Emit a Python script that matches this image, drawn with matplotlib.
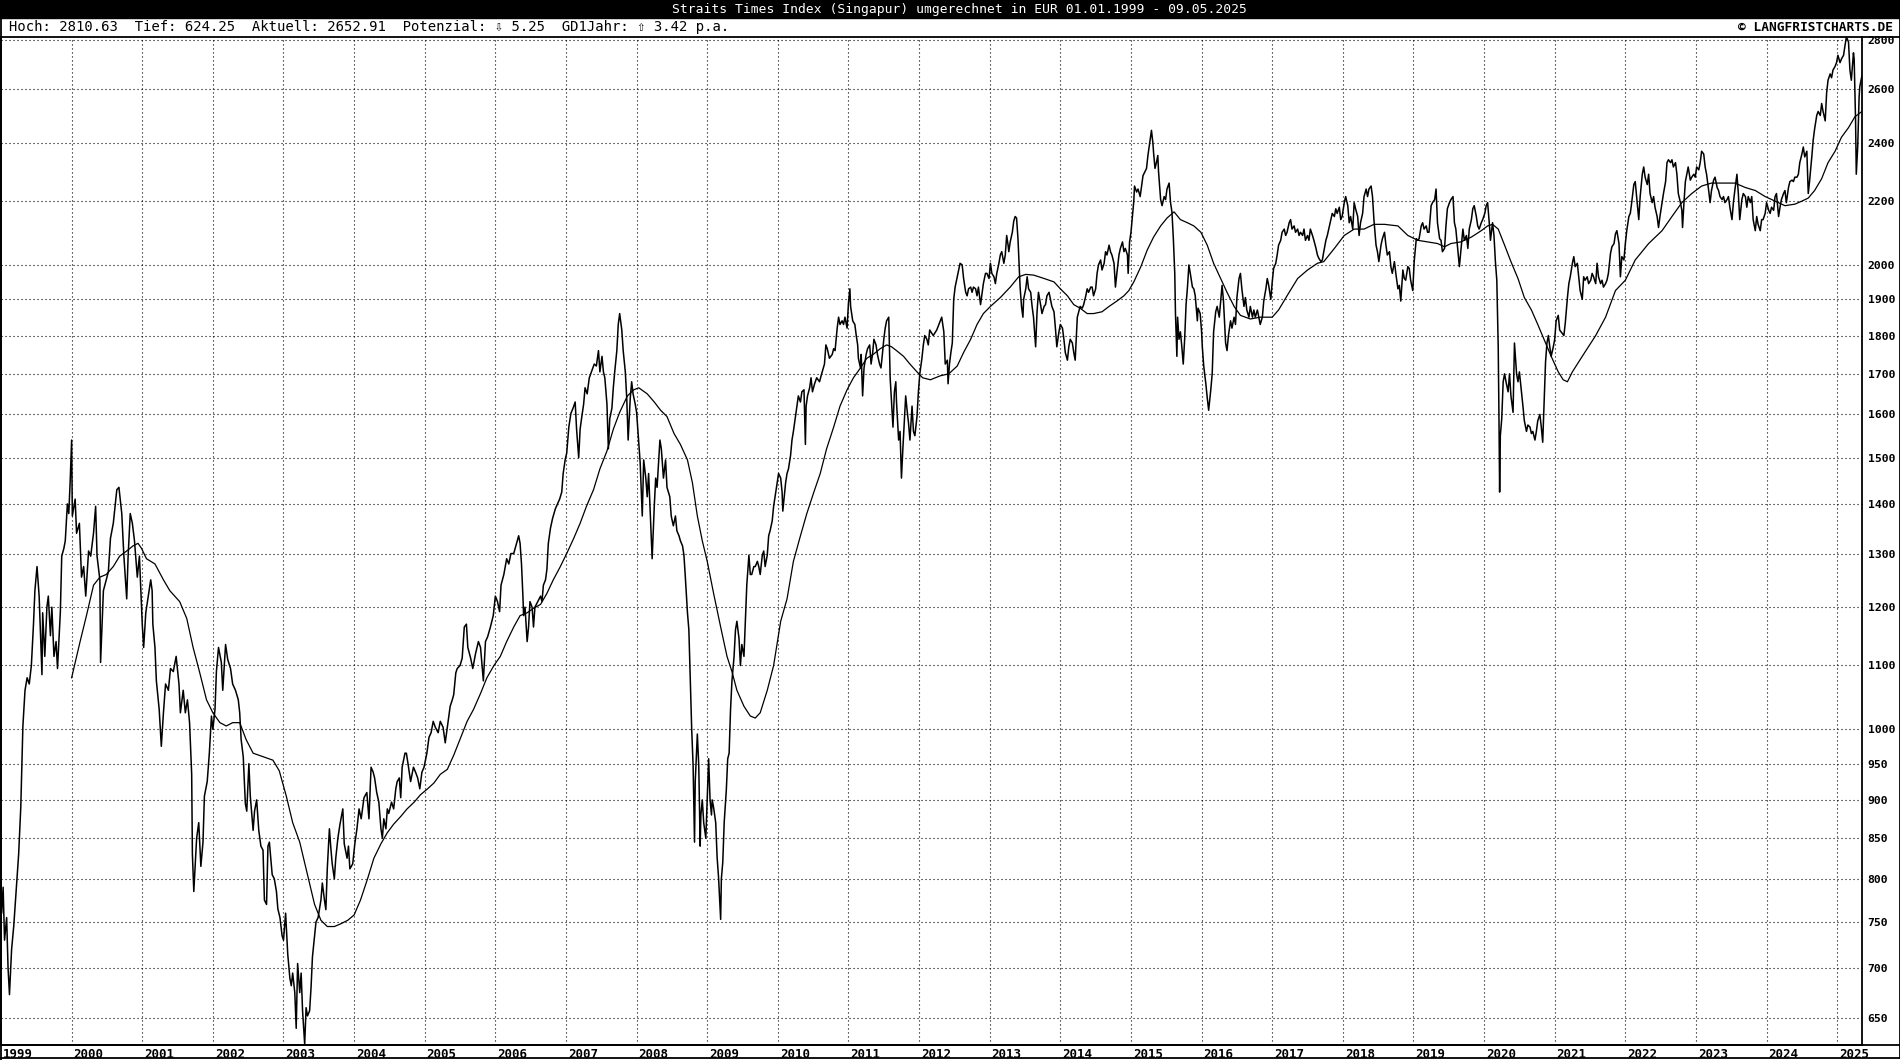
import matplotlib.pyplot as plt
from matplotlib.patches import Rectangle
from matplotlib.lines import Line2D
from matplotlib.ticker import FixedLocator, NullLocator
import matplotlib.transforms as mtransforms

# Straits Times Index in EUR (decimal year, value)
price_year = [
    1999.00, 1999.01, 1999.03, 1999.05, 1999.08, 1999.10, 1999.12, 1999.15, 1999.18, 1999.21,
    1999.25, 1999.28, 1999.31, 1999.34, 1999.37, 1999.40, 1999.43, 1999.46, 1999.48, 1999.51,
    1999.54, 1999.56, 1999.58, 1999.59, 1999.62, 1999.65, 1999.67, 1999.70, 1999.72, 1999.75,
    1999.78, 1999.80, 1999.84, 1999.86, 1999.89, 1999.91, 1999.94, 1999.96, 1999.98, 2000.00,
    2000.01, 2000.05, 2000.07, 2000.11, 2000.14, 2000.17, 2000.20, 2000.24, 2000.27, 2000.31,
    2000.34, 2000.36, 2000.40, 2000.41, 2000.45, 2000.49, 2000.52, 2000.55, 2000.59, 2000.64,
    2000.67, 2000.71, 2000.74, 2000.78, 2000.80, 2000.83, 2000.86, 2000.89, 2000.93, 2000.96,
    2000.98, 2001.00, 2001.02, 2001.05, 2001.08, 2001.12, 2001.14, 2001.15, 2001.18, 2001.20,
    2001.24, 2001.27, 2001.30, 2001.33, 2001.37, 2001.40, 2001.44, 2001.48, 2001.52, 2001.54,
    2001.58, 2001.61, 2001.64, 2001.67, 2001.70, 2001.71, 2001.73, 2001.77, 2001.80, 2001.83,
    2001.86, 2001.88, 2001.92, 2001.95, 2001.98, 2002.00, 2002.03, 2002.05, 2002.08, 2002.12,
    2002.14, 2002.18, 2002.21, 2002.25, 2002.28, 2002.32, 2002.36, 2002.38, 2002.40, 2002.43,
    2002.46, 2002.48, 2002.51, 2002.53, 2002.57, 2002.59, 2002.62, 2002.65, 2002.68, 2002.71,
    2002.73, 2002.76, 2002.78, 2002.80, 2002.84, 2002.87, 2002.90, 2002.92, 2002.95, 2002.98,
    2003.00, 2003.03, 2003.06, 2003.09, 2003.11, 2003.13, 2003.16, 2003.18, 2003.20, 2003.23,
    2003.25, 2003.27, 2003.30, 2003.32, 2003.34, 2003.37, 2003.39, 2003.41, 2003.44, 2003.46,
    2003.49, 2003.53, 2003.55, 2003.58, 2003.60, 2003.62, 2003.65, 2003.67, 2003.69, 2003.72,
    2003.74, 2003.77, 2003.80, 2003.84, 2003.86, 2003.90, 2003.92, 2003.94, 2003.98, 2004.01,
    2004.04, 2004.07, 2004.10, 2004.14, 2004.18, 2004.21, 2004.24, 2004.27, 2004.29, 2004.32,
    2004.35, 2004.38, 2004.40, 2004.42, 2004.45, 2004.47, 2004.49, 2004.53, 2004.56, 2004.59,
    2004.61, 2004.64, 2004.66, 2004.68, 2004.72, 2004.74, 2004.76, 2004.80, 2004.84, 2004.87,
    2004.90, 2004.93, 2004.96, 2004.99, 2005.03, 2005.06, 2005.09, 2005.12, 2005.15, 2005.19,
    2005.22, 2005.26, 2005.29, 2005.32, 2005.36, 2005.39, 2005.41, 2005.44, 2005.46, 2005.50,
    2005.53, 2005.56, 2005.59, 2005.61, 2005.65, 2005.68, 2005.72, 2005.76, 2005.79, 2005.83,
    2005.86, 2005.89, 2005.93, 2005.97, 2006.00, 2006.03, 2006.06, 2006.08, 2006.12, 2006.16,
    2006.19, 2006.22, 2006.26, 2006.30, 2006.33, 2006.35, 2006.37, 2006.39, 2006.40, 2006.42,
    2006.45, 2006.47, 2006.49, 2006.52, 2006.54, 2006.56, 2006.60, 2006.64, 2006.66, 2006.68,
    2006.71, 2006.73, 2006.75, 2006.78, 2006.81, 2006.85, 2006.88, 2006.91, 2006.94, 2006.96,
    2006.99, 2007.01, 2007.04, 2007.07, 2007.10, 2007.13, 2007.15, 2007.18, 2007.20, 2007.22,
    2007.25, 2007.27, 2007.30, 2007.33, 2007.36, 2007.40, 2007.43, 2007.46, 2007.48, 2007.51,
    2007.53, 2007.55, 2007.58, 2007.60, 2007.62, 2007.65, 2007.67, 2007.69, 2007.72, 2007.74,
    2007.76, 2007.79, 2007.81, 2007.84, 2007.86, 2007.88, 2007.91, 2007.93, 2007.95, 2007.98,
    2008.00, 2008.05, 2008.07, 2008.08, 2008.10, 2008.13, 2008.15, 2008.17, 2008.20, 2008.22,
    2008.25, 2008.27, 2008.29, 2008.33, 2008.35, 2008.38, 2008.41, 2008.43, 2008.47, 2008.49,
    2008.52, 2008.55, 2008.57, 2008.60, 2008.62, 2008.65, 2008.67, 2008.69, 2008.72, 2008.74,
    2008.76, 2008.78, 2008.80, 2008.82, 2008.83, 2008.86, 2008.88, 2008.90, 2008.91, 2008.93,
    2008.95, 2008.98, 2009.00, 2009.02, 2009.04, 2009.06, 2009.07, 2009.09, 2009.12, 2009.14,
    2009.16, 2009.19, 2009.20, 2009.22, 2009.24, 2009.27, 2009.29, 2009.31, 2009.33, 2009.35,
    2009.38, 2009.40, 2009.42, 2009.45, 2009.47, 2009.49, 2009.52, 2009.54, 2009.56, 2009.59,
    2009.61, 2009.63, 2009.66, 2009.68, 2009.71, 2009.73, 2009.75, 2009.78, 2009.80, 2009.82,
    2009.85, 2009.87, 2009.89, 2009.92, 2009.94, 2009.96, 2009.99, 2010.01, 2010.04, 2010.06,
    2010.07, 2010.09, 2010.11, 2010.13, 2010.15, 2010.18, 2010.20, 2010.22, 2010.25, 2010.27,
    2010.29, 2010.32, 2010.34, 2010.37, 2010.39, 2010.40, 2010.42, 2010.45, 2010.47, 2010.49,
    2010.52, 2010.55, 2010.59, 2010.62, 2010.66, 2010.68, 2010.70, 2010.73, 2010.77, 2010.79,
    2010.81, 2010.84, 2010.86, 2010.88, 2010.91, 2010.93, 2010.95, 2010.98, 2011.00, 2011.02,
    2011.03, 2011.06, 2011.09, 2011.11, 2011.13, 2011.14, 2011.17, 2011.18, 2011.20, 2011.22,
    2011.25, 2011.27, 2011.30, 2011.32, 2011.34, 2011.36, 2011.39, 2011.41, 2011.44, 2011.46,
    2011.48, 2011.50, 2011.52, 2011.54, 2011.57, 2011.59, 2011.61, 2011.63, 2011.65, 2011.67,
    2011.68, 2011.71, 2011.73, 2011.75, 2011.77, 2011.79, 2011.81, 2011.83, 2011.85, 2011.87,
    2011.90, 2011.92, 2011.94, 2011.97, 2011.99, 2012.01, 2012.04, 2012.06, 2012.08, 2012.11,
    2012.13, 2012.15, 2012.20, 2012.25, 2012.30, 2012.32, 2012.35, 2012.37, 2012.40, 2012.41,
    2012.43, 2012.45, 2012.47, 2012.49, 2012.51, 2012.54, 2012.56, 2012.58, 2012.61, 2012.63,
    2012.66, 2012.68, 2012.70, 2012.73, 2012.75, 2012.77, 2012.80, 2012.82, 2012.84, 2012.87,
    2012.89, 2012.91, 2012.94, 2012.96, 2012.99, 2013.01, 2013.03, 2013.06, 2013.08, 2013.10,
    2013.13, 2013.15, 2013.17, 2013.20, 2013.22, 2013.24, 2013.26, 2013.27, 2013.29, 2013.32,
    2013.34, 2013.36, 2013.38, 2013.40, 2013.42, 2013.43, 2013.45, 2013.47, 2013.48, 2013.51,
    2013.53, 2013.55, 2013.58, 2013.60, 2013.62, 2013.65, 2013.67, 2013.69, 2013.72, 2013.74,
    2013.77, 2013.79, 2013.81, 2013.84, 2013.86, 2013.88, 2013.91, 2013.93, 2013.95, 2013.98,
    2014.00, 2014.03, 2014.05, 2014.07, 2014.10, 2014.12, 2014.14, 2014.17, 2014.19, 2014.21,
    2014.24, 2014.26, 2014.28, 2014.31, 2014.33, 2014.36, 2014.38, 2014.40, 2014.43, 2014.45,
    2014.47, 2014.50, 2014.52, 2014.54, 2014.57, 2014.59, 2014.62, 2014.64, 2014.66, 2014.69,
    2014.71, 2014.73, 2014.76, 2014.78, 2014.80, 2014.83, 2014.85, 2014.88, 2014.90, 2014.92,
    2014.95, 2014.96, 2014.98, 2015.00, 2015.02, 2015.04, 2015.05, 2015.08, 2015.10, 2015.13,
    2015.15, 2015.17, 2015.20, 2015.22, 2015.24, 2015.27, 2015.29, 2015.31, 2015.32, 2015.34,
    2015.36, 2015.38, 2015.39, 2015.42, 2015.44, 2015.47, 2015.49, 2015.51, 2015.54, 2015.56,
    2015.58, 2015.60, 2015.62, 2015.63, 2015.65, 2015.66, 2015.68, 2015.70, 2015.72, 2015.74,
    2015.76, 2015.78, 2015.80, 2015.82, 2015.84, 2015.87, 2015.89, 2015.91, 2015.94, 2015.95,
    2015.98, 2016.00, 2016.01, 2016.03, 2016.06, 2016.08, 2016.10, 2016.13, 2016.15, 2016.17,
    2016.20, 2016.22, 2016.25, 2016.29, 2016.31, 2016.34, 2016.36, 2016.38, 2016.41, 2016.43,
    2016.46, 2016.48, 2016.50, 2016.53, 2016.55, 2016.57, 2016.60, 2016.62, 2016.64, 2016.67,
    2016.69, 2016.72, 2016.74, 2016.76, 2016.79, 2016.81, 2016.83, 2016.86, 2016.88, 2016.91,
    2016.93, 2016.95, 2016.98, 2017.00, 2017.02, 2017.05, 2017.07, 2017.09, 2017.12, 2017.14,
    2017.17, 2017.19, 2017.21, 2017.24, 2017.26, 2017.28, 2017.31, 2017.33, 2017.36, 2017.38,
    2017.40, 2017.43, 2017.45, 2017.47, 2017.50, 2017.52, 2017.54, 2017.57, 2017.59, 2017.62,
    2017.64, 2017.66, 2017.69, 2017.71, 2017.73, 2017.76, 2017.78, 2017.80, 2017.83, 2017.85,
    2017.88, 2017.90, 2017.92, 2017.95, 2017.97, 2017.99, 2018.02, 2018.04, 2018.07, 2018.09,
    2018.11, 2018.14, 2018.16, 2018.18, 2018.21, 2018.23, 2018.25, 2018.28, 2018.30, 2018.33,
    2018.35, 2018.37, 2018.40, 2018.42, 2018.44, 2018.47, 2018.49, 2018.51, 2018.54, 2018.56,
    2018.59, 2018.61, 2018.63, 2018.66, 2018.68, 2018.70, 2018.73, 2018.75, 2018.78, 2018.80,
    2018.82, 2018.85, 2018.87, 2018.89, 2018.92, 2018.94, 2018.96, 2018.99, 2019.01, 2019.04,
    2019.06, 2019.08, 2019.11, 2019.13, 2019.15, 2019.18, 2019.20, 2019.22, 2019.25, 2019.27,
    2019.30, 2019.32, 2019.34, 2019.37, 2019.39, 2019.41, 2019.44, 2019.46, 2019.48, 2019.51,
    2019.53, 2019.56, 2019.58, 2019.60, 2019.63, 2019.65, 2019.67, 2019.70, 2019.72, 2019.75,
    2019.77, 2019.79, 2019.82, 2019.84, 2019.86, 2019.89, 2019.91, 2019.93, 2019.96, 2019.98,
    2020.01, 2020.03, 2020.05, 2020.08, 2020.09, 2020.11, 2020.12, 2020.14, 2020.16, 2020.18,
    2020.20, 2020.21, 2020.22, 2020.23, 2020.25, 2020.27, 2020.29, 2020.31, 2020.34, 2020.36,
    2020.38, 2020.41, 2020.43, 2020.46, 2020.48, 2020.50, 2020.53, 2020.55, 2020.57, 2020.60,
    2020.62, 2020.65, 2020.67, 2020.69, 2020.72, 2020.74, 2020.76, 2020.79, 2020.81, 2020.83,
    2020.85, 2020.87, 2020.89, 2020.91, 2020.93, 2020.95, 2020.98, 2021.00, 2021.02, 2021.05,
    2021.07, 2021.13, 2021.15, 2021.18, 2021.20, 2021.22, 2021.25, 2021.27, 2021.29, 2021.32,
    2021.34, 2021.36, 2021.39, 2021.41, 2021.43, 2021.46, 2021.48, 2021.51, 2021.53, 2021.55,
    2021.58, 2021.60, 2021.62, 2021.65, 2021.67, 2021.69, 2021.72, 2021.74, 2021.76, 2021.79,
    2021.81, 2021.84, 2021.86, 2021.88, 2021.91, 2021.93, 2021.95, 2021.98, 2022.00, 2022.02,
    2022.05, 2022.07, 2022.09, 2022.12, 2022.14, 2022.16, 2022.19, 2022.21, 2022.24, 2022.26,
    2022.28, 2022.31, 2022.33, 2022.35, 2022.38, 2022.40, 2022.42, 2022.45, 2022.47, 2022.49,
    2022.52, 2022.54, 2022.57, 2022.59, 2022.61, 2022.64, 2022.66, 2022.68, 2022.71, 2022.73,
    2022.75, 2022.78, 2022.80, 2022.81, 2022.83, 2022.85, 2022.87, 2022.89, 2022.92, 2022.94,
    2022.97, 2022.99, 2023.01, 2023.04, 2023.06, 2023.08, 2023.11, 2023.13, 2023.15, 2023.18,
    2023.20, 2023.22, 2023.25, 2023.27, 2023.30, 2023.32, 2023.34, 2023.37, 2023.39, 2023.41,
    2023.44, 2023.46, 2023.48, 2023.51, 2023.53, 2023.55, 2023.58, 2023.60, 2023.62, 2023.65,
    2023.67, 2023.70, 2023.72, 2023.74, 2023.77, 2023.79, 2023.81, 2023.84, 2023.86, 2023.88,
    2023.91, 2023.93, 2023.95, 2023.98, 2024.00, 2024.03, 2024.05, 2024.07, 2024.10, 2024.12,
    2024.14, 2024.17, 2024.19, 2024.21, 2024.24, 2024.26, 2024.28, 2024.31, 2024.33, 2024.36,
    2024.38, 2024.40, 2024.43, 2024.45, 2024.47, 2024.50, 2024.52, 2024.54, 2024.57, 2024.59,
    2024.61, 2024.64, 2024.66, 2024.68, 2024.71, 2024.73, 2024.76, 2024.78, 2024.80, 2024.83,
    2024.85, 2024.87, 2024.90, 2024.92, 2024.94, 2024.97, 2024.99, 2025.01, 2025.04, 2025.06,
    2025.09, 2025.11, 2025.13, 2025.16, 2025.18, 2025.20, 2025.23, 2025.24, 2025.26, 2025.27,
    2025.29, 2025.31, 2025.32, 2025.35,
]
price_value = [
    795, 760, 790, 730, 755, 700, 673, 720, 745, 780,
    830, 890, 1005, 1060, 1080, 1070, 1100, 1170, 1230, 1275,
    1220, 1150, 1085, 1190, 1115, 1200, 1220, 1150, 1200, 1115,
    1140, 1095, 1190, 1295, 1310, 1325, 1400, 1380, 1450, 1540,
    1375, 1410, 1340, 1360, 1255, 1275, 1220, 1305, 1295, 1340,
    1395, 1295, 1250, 1105, 1230, 1250, 1265, 1330, 1360, 1430,
    1435, 1380, 1295, 1215, 1295, 1380, 1360, 1325, 1255, 1295,
    1230, 1170, 1130, 1190, 1215, 1250, 1230, 1170, 1130, 1075,
    1030, 975, 1025, 1070, 1060, 1095, 1090, 1115, 1070, 1025,
    1060, 1025, 1045, 1010, 935, 830, 785, 850, 870, 815,
    845, 905, 925, 965, 1020, 1000, 1030, 1090, 1130, 1105,
    1060, 1135, 1110, 1095, 1070, 1060, 1045, 1025, 985, 960,
    895, 885, 950, 905, 860, 885, 900, 860, 840, 835,
    775, 770, 840, 845, 805, 800, 785, 765, 755, 735,
    730, 760, 715, 690, 682, 695, 675, 640, 705, 675,
    695, 657, 625, 660, 652, 657, 680, 712, 735, 750,
    755, 775, 795, 775, 764, 812, 862, 838, 818, 800,
    825, 850, 868, 888, 843, 825, 840, 812, 818, 843,
    862, 888, 875, 903, 910, 875, 945, 938, 930, 910,
    897, 862, 850, 875, 862, 888, 882, 897, 888, 915,
    925, 930, 903, 945, 965, 965, 952, 925, 945, 938,
    930, 915, 938, 945, 965, 988, 995, 1012, 1003, 995,
    1012, 1003, 980, 1003, 1035, 1045, 1053, 1088, 1095, 1100,
    1112, 1165, 1170, 1130, 1112, 1095, 1120, 1140, 1130, 1075,
    1140, 1148, 1165, 1185, 1220, 1210, 1192, 1240, 1260, 1290,
    1280, 1300, 1300, 1320, 1335, 1320, 1280, 1220, 1185, 1200,
    1140, 1165, 1210, 1200, 1165, 1200, 1210, 1220, 1210, 1240,
    1250, 1270, 1320, 1350, 1370, 1390, 1400, 1410, 1425, 1465,
    1497, 1510, 1570, 1603, 1615, 1630, 1565, 1500, 1565, 1590,
    1625, 1665, 1650, 1690, 1705, 1725, 1720, 1760, 1705, 1745,
    1705, 1690, 1625, 1520, 1590, 1615, 1665, 1705, 1760, 1830,
    1860, 1815, 1760, 1705, 1640, 1540, 1640, 1680, 1650, 1625,
    1605, 1490, 1415, 1375, 1495, 1455, 1415, 1465, 1355, 1290,
    1395, 1455, 1435, 1540, 1520, 1455, 1495, 1435, 1415, 1375,
    1355, 1375, 1345, 1335, 1325, 1315, 1297, 1255, 1190, 1160,
    1075, 1000, 947, 845, 925, 993, 947, 840, 880, 900,
    870, 850, 900, 957, 900, 880, 900, 890, 870, 826,
    802, 753, 800, 820, 870, 913, 957, 965, 1030, 1075,
    1115, 1160, 1175, 1145, 1100, 1135, 1115, 1175, 1240, 1297,
    1260, 1260, 1275, 1275, 1285, 1275, 1260, 1297, 1305, 1275,
    1297, 1335, 1345, 1365, 1395, 1415, 1445, 1465, 1455, 1425,
    1385, 1415, 1445, 1465, 1475, 1505, 1540, 1560, 1595, 1620,
    1645, 1630, 1655, 1660, 1530, 1620, 1645, 1665, 1690, 1655,
    1675, 1690, 1680, 1700, 1725, 1775, 1765, 1740, 1750, 1765,
    1760, 1820, 1850, 1830, 1840, 1830, 1850, 1820, 1890, 1930,
    1880, 1840, 1830, 1800, 1775, 1740, 1715, 1750, 1645, 1715,
    1750, 1765, 1775, 1725, 1750, 1790, 1775, 1750, 1725, 1715,
    1750, 1790, 1820, 1840, 1850, 1690, 1630, 1570, 1655, 1680,
    1630, 1540, 1560, 1455, 1520, 1580, 1645, 1610, 1580, 1540,
    1620, 1560, 1550, 1595, 1655, 1700, 1740, 1775, 1800, 1790,
    1775, 1815, 1800, 1815, 1840, 1850, 1810, 1725, 1735, 1675,
    1725, 1755, 1780, 1900, 1935, 1965, 1985, 2005, 2000, 1960,
    1920, 1910, 1930, 1935, 1920, 1935, 1930, 1910, 1935, 1885,
    1915, 1945, 1975, 1975, 1960, 2005, 1975, 1965, 1945, 1975,
    2005, 2030, 2040, 2005, 2030, 2090, 2060, 2040, 2070, 2100,
    2135, 2150, 2145, 2080, 1985, 1935, 1880, 1850, 1900, 1930,
    1965, 1930, 1920, 1880, 1850, 1770, 1865, 1920, 1885, 1860,
    1880, 1885, 1910, 1920, 1900, 1880, 1865, 1820, 1770, 1810,
    1830, 1820, 1790, 1755, 1735, 1770, 1790, 1780, 1755, 1735,
    1850, 1865, 1880, 1875, 1885, 1910, 1930, 1920, 1935, 1935,
    1910, 1930, 1975, 2000, 2015, 1985, 2005, 2040, 2030, 2060,
    2040, 2030, 2005, 1935, 1975, 2030, 2050, 2070, 2040, 2050,
    2030, 1975, 2070, 2100, 2150, 2200, 2250, 2230, 2240, 2215,
    2250, 2285, 2300, 2310, 2355, 2410, 2445, 2400, 2365, 2310,
    2330, 2355, 2300, 2205, 2185, 2215, 2205, 2240, 2260, 2195,
    2165, 2080, 1975, 1860, 1745, 1850, 1790, 1810, 1770, 1725,
    1790, 1885, 1935, 2000, 1975, 1935, 1930, 1910, 1840, 1875,
    1860, 1810, 1770, 1720, 1675, 1640, 1610, 1660, 1700, 1810,
    1865, 1880, 1850, 1940, 1895, 1780, 1760, 1800, 1840, 1820,
    1850, 1830, 1905, 1960, 1975, 1930, 1880, 1905, 1870, 1850,
    1880, 1850, 1870, 1850, 1870, 1850, 1830, 1850, 1895, 1930,
    1960, 1940, 1900, 1950, 1990, 2005, 2030, 2060, 2075, 2100,
    2110, 2090, 2100, 2130, 2140, 2110, 2120, 2100, 2110, 2090,
    2100, 2090, 2110, 2075, 2090, 2075, 2110, 2090, 2075, 2050,
    2030, 2020, 2010, 2015, 2040, 2075, 2090, 2110, 2140, 2160,
    2150, 2175, 2160, 2180, 2140, 2150, 2195, 2215, 2185, 2130,
    2150, 2110, 2195, 2175, 2150, 2090, 2130, 2160, 2215, 2240,
    2215, 2240, 2250, 2215, 2140, 2060, 2040, 2010, 2060, 2080,
    2100, 2060, 2030, 2040, 1995, 1975, 2010, 1975, 1930, 1940,
    1895, 1985, 1960, 1955, 1995, 1990, 1955, 1925, 2010, 2080,
    2075, 2080, 2120, 2130, 2110, 2120, 2100, 2100, 2185, 2195,
    2205, 2240, 2130, 2080, 2075, 2040, 2050, 2120, 2175, 2195,
    2205, 2215, 2130, 2110, 2040, 1995, 2040, 2110, 2075, 2090,
    2050, 2110, 2140, 2175, 2185, 2150, 2120, 2110, 2130, 2140,
    2160, 2185, 2195, 2110, 2075, 2110, 2130, 2090, 2010, 1955,
    1770, 1605, 1425, 1550, 1590, 1680, 1700, 1680, 1655, 1700,
    1645, 1605, 1780, 1700, 1680, 1705, 1655, 1620, 1585, 1560,
    1575, 1570, 1555, 1560, 1540, 1560, 1585, 1600, 1570, 1535,
    1630, 1730, 1780, 1800, 1770, 1745, 1770, 1790, 1840, 1855,
    1815, 1800, 1835, 1905, 1945, 1965, 2005, 2025, 1995, 2005,
    1965, 1925, 1900, 1965, 1955, 1965, 1945, 1955, 1975, 1965,
    1945, 2005, 1965, 1945, 1955, 1935, 1945, 1955, 1975, 2035,
    2055, 2065, 2095, 2105, 2065, 1965, 2025, 2015, 2065, 2105,
    2150, 2160, 2195, 2255, 2265, 2215, 2140, 2215, 2290, 2315,
    2280, 2255, 2290, 2225, 2195, 2215, 2180, 2150, 2115, 2150,
    2195, 2225, 2265, 2330, 2340, 2330, 2340, 2315, 2330, 2290,
    2225, 2195, 2170, 2115, 2195, 2265, 2290, 2315, 2270, 2280,
    2290, 2280, 2315, 2305, 2330, 2370, 2360, 2315, 2290, 2235,
    2195, 2235, 2270, 2280, 2245, 2235, 2215, 2205, 2215, 2195,
    2205, 2215, 2180, 2140, 2195, 2235, 2290, 2225, 2140, 2205,
    2225, 2215, 2180, 2215, 2195, 2215, 2140, 2105, 2150, 2125,
    2105, 2140, 2140, 2160, 2195, 2170, 2160, 2180, 2170, 2215,
    2225, 2150, 2180, 2205, 2225, 2235, 2195, 2245, 2265, 2270,
    2265, 2280, 2280, 2290, 2330, 2360, 2385, 2350, 2370, 2225,
    2270, 2350, 2410, 2450, 2500, 2515, 2500, 2545, 2515, 2480,
    2585, 2635, 2660, 2645, 2675, 2690, 2705, 2735, 2705, 2720,
    2735, 2775, 2810.63, 2790, 2675, 2635, 2745, 2720, 2480, 2290,
    2385, 2570, 2610, 2652.91,
]

# GD 1 Jahr (one-year moving average)
ma_year = [
    2000.00, 2000.12, 2000.21, 2000.31, 2000.40, 2000.49, 2000.59, 2000.68, 2000.78, 2000.87,
    2000.94, 2000.99, 2001.06, 2001.18, 2001.30, 2001.39, 2001.53, 2001.63, 2001.72, 2001.81,
    2001.91, 2002.00, 2002.10, 2002.19, 2002.28, 2002.38, 2002.47, 2002.57, 2002.71, 2002.85,
    2002.94, 2003.04, 2003.13, 2003.23, 2003.34, 2003.44, 2003.53, 2003.62, 2003.72, 2003.81,
    2003.91, 2004.00, 2004.09, 2004.19, 2004.28, 2004.38, 2004.47, 2004.56, 2004.66, 2004.75,
    2004.85, 2004.94, 2005.04, 2005.13, 2005.22, 2005.32, 2005.41, 2005.51, 2005.60, 2005.69,
    2005.79, 2005.88, 2005.98, 2006.07, 2006.16, 2006.26, 2006.35, 2006.45, 2006.54, 2006.64,
    2006.73, 2006.82, 2006.92, 2007.01, 2007.11, 2007.20, 2007.29, 2007.39, 2007.48, 2007.58,
    2007.67, 2007.76, 2007.87, 2007.96, 2008.03, 2008.15, 2008.25, 2008.34, 2008.43, 2008.53,
    2008.62, 2008.72, 2008.79, 2008.86, 2008.93, 2009.00, 2009.09, 2009.19, 2009.28, 2009.35,
    2009.42, 2009.52, 2009.61, 2009.68, 2009.75, 2009.85, 2009.94, 2010.04, 2010.13, 2010.22,
    2010.32, 2010.41, 2010.51, 2010.60, 2010.69, 2010.79, 2010.88, 2010.98, 2011.07, 2011.17,
    2011.26, 2011.35, 2011.45, 2011.54, 2011.61, 2011.68, 2011.78, 2011.87, 2011.97, 2012.05,
    2012.16, 2012.30, 2012.42, 2012.54, 2012.63, 2012.73, 2012.82, 2012.91, 2013.01, 2013.15,
    2013.29, 2013.41, 2013.51, 2013.62, 2013.77, 2013.91, 2014.00, 2014.10, 2014.19, 2014.28,
    2014.38, 2014.47, 2014.59, 2014.69, 2014.80, 2014.90, 2014.97, 2015.04, 2015.14, 2015.23,
    2015.32, 2015.42, 2015.51, 2015.61, 2015.70, 2015.80, 2015.89, 2015.99, 2016.08, 2016.17,
    2016.27, 2016.36, 2016.46, 2016.55, 2016.69, 2016.83, 2017.00, 2017.09, 2017.21, 2017.36,
    2017.50, 2017.64, 2017.73, 2017.88, 2018.02, 2018.16, 2018.30, 2018.44, 2018.59, 2018.78,
    2018.92, 2019.06, 2019.20, 2019.34, 2019.44, 2019.53, 2019.67, 2019.82, 2019.96, 2020.05,
    2020.12, 2020.20, 2020.29, 2020.38, 2020.48, 2020.57, 2020.67, 2020.76, 2020.86, 2020.95,
    2021.05, 2021.12, 2021.18, 2021.25, 2021.39, 2021.58, 2021.72, 2021.86, 2022.00, 2022.14,
    2022.33, 2022.52, 2022.66, 2022.80, 2022.94, 2023.08, 2023.22, 2023.37, 2023.55, 2023.70,
    2023.84, 2023.98, 2024.12, 2024.26, 2024.40, 2024.50, 2024.59, 2024.68, 2024.78, 2024.87,
    2024.97, 2025.06, 2025.16, 2025.25, 2025.35,
]
ma_value = [
    1080, 1140, 1185, 1240, 1255, 1260, 1275, 1295, 1305, 1315,
    1320, 1310, 1290, 1280, 1250, 1230, 1210, 1180, 1130, 1090,
    1045, 1025, 1010, 1005, 1010, 1010, 985, 965, 960, 955,
    940, 905, 870, 845, 805, 770, 752, 745, 745, 748,
    752, 758, 775, 800, 825, 843, 857, 868, 878, 888,
    897, 907, 915, 923, 935, 942, 962, 988, 1012, 1030,
    1055, 1080, 1100, 1115, 1140, 1165, 1185, 1190, 1198, 1205,
    1225, 1250, 1275, 1300, 1330, 1360, 1395, 1430, 1475, 1515,
    1565, 1605, 1645, 1660, 1665, 1650, 1630, 1610, 1595, 1555,
    1530, 1495, 1445, 1375, 1325, 1285, 1225, 1165, 1115, 1090,
    1060, 1035, 1020, 1017, 1025, 1060, 1100, 1175, 1215, 1285,
    1335, 1380, 1425, 1465, 1520, 1570, 1620, 1660, 1690, 1715,
    1740, 1750, 1765, 1775, 1770, 1760, 1745, 1725, 1705, 1690,
    1685, 1695, 1700, 1720, 1755, 1790, 1830, 1860, 1880, 1905,
    1935, 1965, 1972, 1970, 1960, 1950, 1930, 1910, 1885, 1875,
    1860, 1860, 1865, 1880, 1895, 1910, 1925, 1950, 1995, 2045,
    2085, 2120, 2145, 2165, 2140, 2130, 2120, 2100, 2060, 2005,
    1960, 1920, 1880, 1855, 1845, 1850, 1850, 1870, 1910, 1960,
    1985, 2005, 2010, 2050, 2090, 2110, 2110, 2125, 2125, 2120,
    2090, 2075, 2070, 2065, 2055, 2065, 2070, 2085, 2105, 2120,
    2125, 2110, 2060, 2010, 1960, 1905, 1870, 1830, 1785, 1745,
    1705, 1685, 1680, 1705, 1745, 1800, 1850, 1925, 1955, 2015,
    2065, 2105, 2150, 2195, 2225, 2250, 2260, 2260, 2260, 2245,
    2235, 2215, 2200, 2185, 2190, 2200, 2210, 2235, 2275, 2330,
    2370, 2420, 2455, 2495, 2515,
]

y_ticks = [650, 700, 750, 800, 850, 900, 950, 1000, 1100, 1200, 1300, 1400, 1500,
           1600, 1700, 1800, 1900, 2000, 2200, 2400, 2600, 2800]
year_labels = list(range(1999, 2026))

title = "Straits Times Index (Singapur) umgerechnet in EUR 01.01.1999 - 09.05.2025"
stats = "Hoch: 2810.63  Tief: 624.25  Aktuell: 2652.91  Potenzial: \u21e9 5.25  GD1Jahr: \u21e7 3.42 p.a."
credit = "\u00a9 LANGFRISTCHARTS.DE"

mono = ['DejaVu Sans Mono', 'DejaVu Sans']

W, H = 1900, 1060
fig = plt.figure(figsize=(W / 100, H / 100), dpi=100)
fig.patch.set_facecolor('white')

top_px, bot_px, right_px = 37, 1045, 1862
ax = fig.add_axes([1 / W, (H - bot_px) / H, (right_px - 1) / W, (bot_px - top_px) / H])
ax.set_yscale('log')
ax.plot(price_year, price_value, color='black', lw=1.1)
ax.plot(ma_year, ma_value, color='black', lw=0.9)
ax.set_xlim(1999.0, 2025.351)
ax.set_ylim(624.25, 2810.63)

# grid
ax.yaxis.set_major_locator(FixedLocator(y_ticks))
ax.yaxis.set_minor_locator(NullLocator())
ax.xaxis.set_major_locator(FixedLocator(year_labels[1:]))
ax.xaxis.set_minor_locator(NullLocator())
ax.grid(True, color='black', linestyle=(0, (1, 2.6)), linewidth=0.8)
ax.yaxis.tick_right()
ax.set_yticklabels([str(v) for v in y_ticks])
ax.tick_params(axis='y', length=0, pad=4)
ax.tick_params(axis='x', length=0, labelbottom=False)
for t in ax.get_yticklabels():
    t.set_fontfamily(mono)
    t.set_fontweight('bold')
    t.set_fontsize(8.2)
for s in ['left', 'bottom', 'right']:
    ax.spines[s].set_linewidth(1.3)
ax.spines['top'].set_visible(False)

# year labels under the axis
trans = mtransforms.blended_transform_factory(ax.transData, ax.transAxes)
for yr in year_labels:
    off = mtransforms.offset_copy(trans, fig=fig, x=2, y=-3, units='dots')
    ax.text(yr, 0, str(yr), transform=off, ha='left', va='top',
            fontsize=9, fontweight='bold', family=mono, clip_on=False)

# header bar
fig.patches.append(Rectangle((0, (H - 18) / H), 1, 18 / H, transform=fig.transFigure,
                             color='black', zorder=0))
fig.text(959 / W, (H - 9.5) / H, title, color='white', ha='center', va='center',
         fontsize=9.4, family=mono)
fig.text(9 / W, (H - 27.5) / H, stats, color='black', ha='left', va='center',
         fontsize=10, family=mono)
fig.text(1893 / W, (H - 27.5) / H, credit, color='black', ha='right', va='center',
         fontsize=9.3, fontweight='bold', family=mono)

# frame lines
for yy in [top_px, bot_px]:
    fig.add_artist(Line2D([0, 1], [(H - yy) / H, (H - yy) / H], color='black', lw=1.3,
                          transform=fig.transFigure))
fig.add_artist(Line2D([0, 1], [(H - 1058) / H, (H - 1058) / H], color='black', lw=1.3,
                      transform=fig.transFigure))
fig.add_artist(Line2D([0.5 / W, 0.5 / W], [0, 1], color='black', lw=1.3,
                      transform=fig.transFigure))
fig.add_artist(Line2D([1 - 0.5 / W, 1 - 0.5 / W], [(H - 1058) / H, 1], color='black', lw=1.3,
                      transform=fig.transFigure))

fig.savefig('out.png', dpi=100, facecolor='white')
